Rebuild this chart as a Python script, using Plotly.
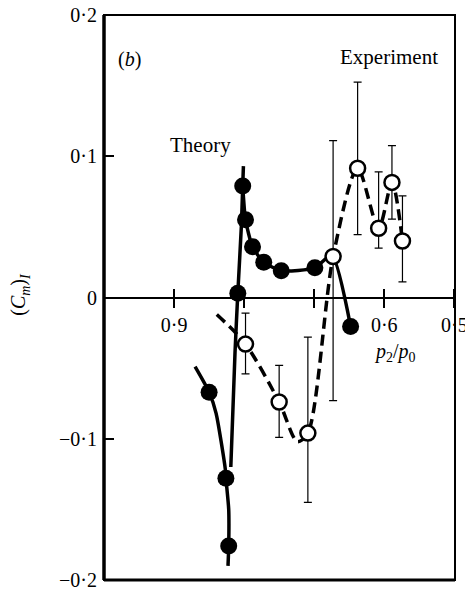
import plotly.graph_objects as go

# Theory: computed points (filled dots)
theory_x = [0.850, 0.826, 0.822, 0.809, 0.802, 0.798, 0.788, 0.772, 0.747, 0.699, 0.648]
theory_y = [-0.067, -0.128, -0.176, 0.003, 0.079, 0.055, 0.036, 0.025, 0.019, 0.021, -0.0205]

# Theory curve branches (None separates branches)
theory_curve_x = [0.870, 0.850, 0.840, 0.827, 0.826, 0.822, 0.822, 0.823, None,
                  0.819, 0.813, 0.809, 0.804, 0.802, 0.801, None,
                  0.802, 0.798, 0.788, 0.772, 0.747, 0.699, 0.675, 0.648]
theory_curve_y = [-0.049, -0.067, -0.082, -0.121, -0.128, -0.150, -0.176, -0.190, None,
                  -0.120, -0.039, 0.003, 0.050, 0.079, 0.093, None,
                  0.079, 0.055, 0.036, 0.025, 0.019, 0.021, 0.030, -0.0205]

# Experiment: measured points with error bars
exp_x = [0.798, 0.750, 0.709, 0.673, 0.638, 0.608, 0.589, 0.574]
exp_y = [-0.033, -0.074, -0.096, 0.029, 0.0915, 0.049, 0.0815, 0.040]
exp_err_plus = [0.022, 0.026, 0.068, 0.082, 0.061, 0.040, 0.026, 0.032]
exp_err_minus = [0.021, 0.025, 0.049, 0.102, 0.047, 0.014, 0.026, 0.029]

# Experiment fitted curve (dashed)
exp_curve_x = [0.839, 0.798, 0.750, 0.724, 0.709, 0.673, 0.638, 0.608, 0.589, 0.574]
exp_curve_y = [-0.012, -0.033, -0.074, -0.102, -0.096, 0.029, 0.0915, 0.049, 0.0815, 0.040]

x_ticks = [0.9, 0.8, 0.7, 0.6, 0.5]
x_label_ticks = [0.9, 0.6, 0.5]
x_label_text = ["0·9", "0·6", "0·5"]
x_unlabelled_ticks = [0.8, 0.7]
y_ticks = [-0.2, -0.1, 0, 0.1, 0.2]
y_tick_text = ["−0·2", "−0·1", "0", "0·1", "0·2"]

X_RANGE = [1.0, 0.499]
FONT = "Liberation Serif"

fig = go.Figure()

fig.add_trace(go.Scatter(
    x=theory_curve_x, y=theory_curve_y, mode="lines",
    line=dict(color="black", width=3.5, shape="spline", smoothing=0.6),
    connectgaps=False, hoverinfo="skip", showlegend=False))

fig.add_trace(go.Scatter(
    x=exp_curve_x, y=exp_curve_y, mode="lines",
    line=dict(color="black", width=3.5, dash="11px,6px", shape="spline", smoothing=0.8),
    hoverinfo="skip", showlegend=False))

fig.add_trace(go.Scatter(
    x=theory_x, y=theory_y, mode="markers",
    marker=dict(color="black", size=17, line=dict(width=0)),
    showlegend=False))

fig.add_trace(go.Scatter(
    x=exp_x, y=exp_y, mode="markers",
    marker=dict(color="white", size=15, line=dict(color="black", width=2.5)),
    error_y=dict(type="data", symmetric=False, array=exp_err_plus,
                 arrayminus=exp_err_minus, color="black", thickness=1.2, width=4),
    showlegend=False))

# overlay axes carrying the extra tick marks that cross the zero line
fig.add_trace(go.Scatter(x=[None], y=[None], xaxis="x2", showlegend=False, hoverinfo="skip"))
fig.add_trace(go.Scatter(x=[None], y=[None], xaxis="x3", showlegend=False, hoverinfo="skip"))


def ann(text, x, y, size=20, **kw):
    return dict(text=text, x=x, y=y, xref="paper", yref="paper", showarrow=False,
                xanchor="center", yanchor="middle",
                font=dict(family=FONT, size=size, color="black"), **kw)


fig.update_layout(
    width=465, height=590,
    margin=dict(l=104, r=10, t=15, b=10, autoexpand=False),
    paper_bgcolor="white", plot_bgcolor="white",
    font=dict(family=FONT, size=20, color="black"),
    xaxis=dict(range=X_RANGE, anchor="free", position=0.5, automargin=False,
               showline=True, linewidth=2, linecolor="black",
               ticks="outside", ticklen=9, tickwidth=2, tickcolor="black",
               tickvals=x_label_ticks, ticktext=x_label_text,
               ticklabeloverflow="allow",
               showgrid=False, zeroline=False,
               tickfont=dict(family=FONT, size=20)),
    xaxis2=dict(range=X_RANGE, overlaying="x", side="top", anchor="free", position=0.5,
                automargin=False,
                showline=False, ticks="outside", ticklen=9, tickwidth=2, tickcolor="black",
                tickvals=x_ticks, showticklabels=False,
                showgrid=False, zeroline=False),
    xaxis3=dict(range=X_RANGE, overlaying="x", side="bottom", anchor="free", position=0.5,
                automargin=False,
                showline=False, ticks="outside", ticklen=9, tickwidth=2, tickcolor="black",
                tickvals=x_unlabelled_ticks, showticklabels=False,
                showgrid=False, zeroline=False),
    yaxis=dict(range=[-0.2, 0.2], showline=False, automargin=False,
               ticks="inside", ticklen=10, tickwidth=2, tickcolor="black",
               tickvals=y_ticks, ticktext=y_tick_text,
               ticklabelstandoff=6, ticklabeloverflow="allow",
               showgrid=False, zeroline=False,
               tickfont=dict(family=FONT, size=20)),
    shapes=[
        dict(type="rect", xref="paper", yref="paper", x0=0, y0=0, x1=1, y1=1,
             line=dict(color="black", width=2)),
        dict(type="line", xref="paper", yref="paper", x0=0, y0=0, x1=0, y1=1,
             line=dict(color="black", width=3.5)),
        dict(type="line", xref="paper", yref="paper", x0=0, y0=0, x1=1, y1=0,
             line=dict(color="black", width=3)),
    ],
    annotations=[
        ann("(<i>b</i>)", 0.074, 0.922),
        ann("Theory", 0.276, 0.770, size=21),
        ann("Experiment", 0.812, 0.9255, size=21),
        ann("<i>p</i><sub>2</sub>/<i>p</i><sub>0</sub>", 0.829, 0.4025),
        ann("(<i>C</i><sub><i>m</i></sub>)<sub><i>I</i></sub>", -0.239, 0.505, textangle=-90),
    ],
)

fig.write_html("out.html")
